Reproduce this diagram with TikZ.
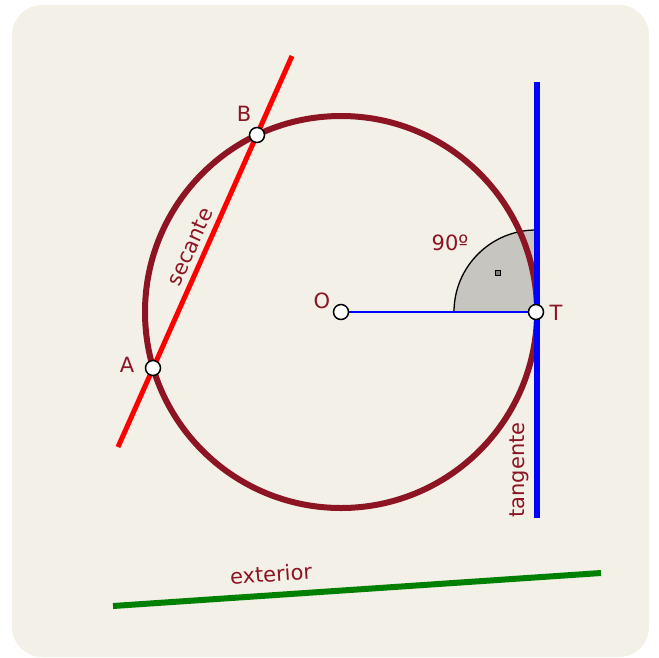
\documentclass[tikz,border=0pt]{standalone}
\usepackage{fontspec}
\setmainfont{DejaVu Sans}
\definecolor{paper}{RGB}{243,240,231}
\definecolor{maroon}{RGB}{140,20,35}
\definecolor{angfill}{RGB}{199,197,192}
\tikzset{
    pt/.style={circle, draw=black, fill=white, line width=1.5pt, inner sep=0pt, minimum size=15pt},
    lbl/.style={text=maroon, font=\fontsize{21}{24}\selectfont, inner sep=0pt}
}
\begin{document}
\begin{tikzpicture}[x=1pt, y=-1pt]
    \useasboundingbox (0,0) rectangle (659,657);
    % 1. Nền
    \fill[paper, rounded corners=30pt] (12,5) rectangle (649,657);

    % 2. Các điểm chính
    \coordinate (O) at (341,312);
    \coordinate (T) at (536,312);
    \coordinate (A) at (153,368);
    \coordinate (B) at (257,135);

    % 3. Góc vuông tại T
    \filldraw[fill=angfill, draw=black, line width=1.3pt]
        (T) -- ++(-82,0) arc[start angle=180, end angle=270, radius=82] -- cycle;
    \draw[black, line width=1.2pt, fill=gray] (495.5,270.5) rectangle (500.5,275.5);

    % 4. Đường tròn và bán kính OT
    \draw[maroon, line width=6pt] (O) circle[radius=196];
    \draw[blue, line width=1.5pt] (O) -- (T);

    % 5. Cát tuyến, tiếp tuyến và đường ngoài
    \coordinate (s1) at (118,447);
    \coordinate (s2) at (292,56);
    \draw[red, line width=5pt] (s1) -- (s2);

    \coordinate (t1) at (537,82);
    \coordinate (t2) at (537,518);
    \draw[blue, line width=6pt] (t1) -- (t2);

    \coordinate (e1) at (113,606);
    \coordinate (e2) at (601,573);
    \draw[green!50!black, line width=6pt] (e1) -- (e2);

    % 6. Các điểm và nhãn
    \node[pt] (pO) at (O) {};
    \node[pt] (pT) at (T) {};
    \node[pt] (pA) at (A) {};
    \node[pt] (pB) at (B) {};

    \node[lbl] at (322,301) {O};
    \node[lbl] at (556,313) {T};
    \node[lbl] at (127,365) {A};
    \node[lbl] at (244,114) {B};
    \node[lbl] at (450,243) {90º};

    \node[lbl, rotate=66] at (190,247) {secante};
    \node[lbl, rotate=90] at (519,470) {tangente};
    \node[lbl, rotate=3.9] at (271,574) {exterior};
\end{tikzpicture}
\end{document}
